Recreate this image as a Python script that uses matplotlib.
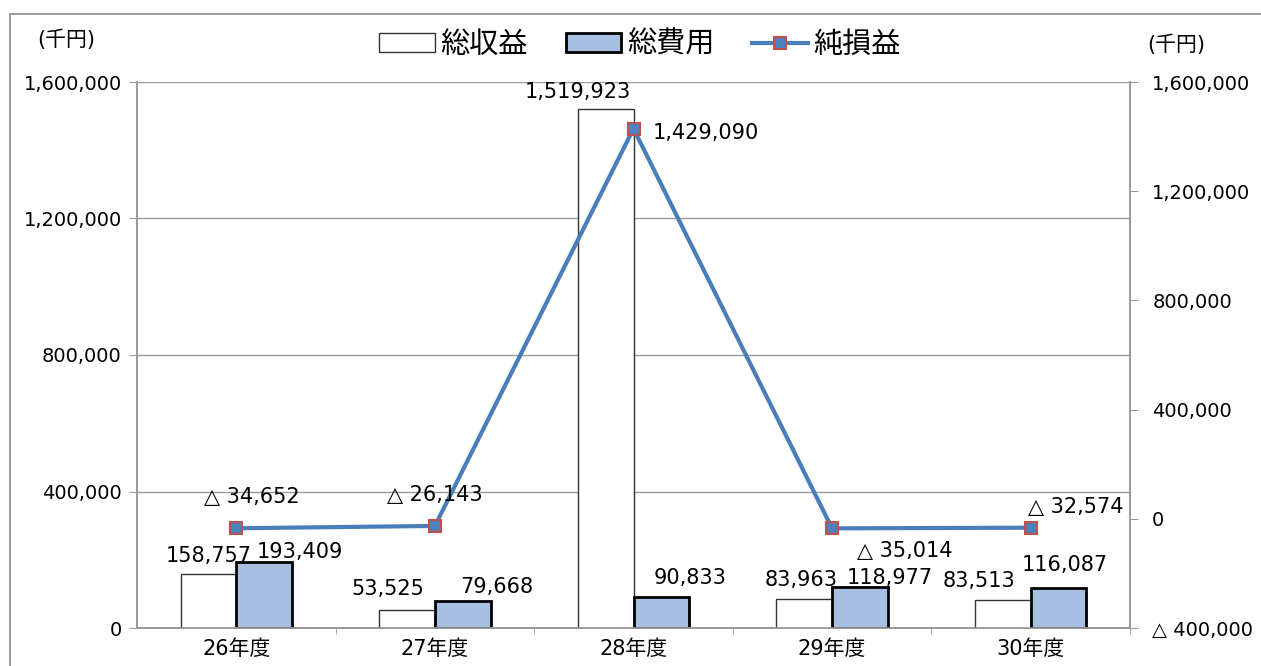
"""Revenue / expense bars with net profit line on a secondary axis."""

import matplotlib.pyplot as plt
from matplotlib.patches import Rectangle

plt.rcParams["font.family"] = ["DejaVu Sans", "Noto Sans CJK JP"]

years = ["26年度", "27年度", "28年度", "29年度", "30年度"]
revenue = [158757, 53525, 1519923, 83963, 83513]        # 総収益
expense = [193409, 79668, 90833, 118977, 116087]        # 総費用
net = [-34652, -26143, 1429090, -35014, -32574]         # 純損益

left_ticks = [0, 400000, 800000, 1200000, 1600000]
right_ticks = [-400000, 0, 400000, 800000, 1200000, 1600000]

# label offsets in pixels (dx, dy) relative to bar top / marker
rev_off = [(0, 18), (-19, 21), (-28, 17), (-3, 19), (-24, 19)]
exp_off = [(36, 10), (34, 14), (29, 19), (30, 9), (6, 23)]
net_off = [(16, 31), (0, 31), (19, -4), (73, -23), (45, 21)]

BLUE_FILL = "#a7bfe0"
LINE = "#4a7ebb"


def fmt(v):
    return f"△ {abs(v):,}" if v < 0 else f"{v:,}"


fig = plt.figure(figsize=(12.61, 6.66), dpi=100)
fig.patches.append(Rectangle((10 / 1261, -0.1), 1.2, 1.1 - 14 / 666,
                             transform=fig.transFigure, fill=False,
                             ec="#8a8a8a", lw=1.2))
ax = fig.add_axes([137 / 1261, 1 - 628 / 666, (1130 - 137) / 1261, (628 - 82) / 666])
ax2 = ax.twinx()

x = list(range(len(years)))
w = 0.28
b1 = ax.bar([i - w / 2 for i in x], revenue, w, color="white",
            edgecolor="#333333", lw=1.0, zorder=3, label="総収益")
b2 = ax.bar([i + w / 2 for i in x], expense, w, color=BLUE_FILL,
            edgecolor="black", lw=2.0, zorder=3, label="総費用")

ax.set_xlim(-0.5, len(years) - 0.5)
ax.set_ylim(0, 1600000)
ax.set_yticks(left_ticks)
ax.set_yticklabels([f"{v:,}" for v in left_ticks], fontsize=14)
ax.set_xticks(x)
ax.set_xticklabels(years, fontsize=15)
ax.set_xticks([i + 0.5 for i in x], minor=True)
ax.tick_params(axis="x", which="major", length=0, pad=8)
ax.tick_params(axis="x", which="minor", length=4, color="#999999")
ax.tick_params(axis="y", length=6, color="#999999", pad=5)
ax.grid(axis="y", color="#9a9a9a", lw=1.0, zorder=0)
ax.set_axisbelow(True)

ln, = ax2.plot(x, net, color=LINE, lw=3, marker="s", ms=8,
               mfc="#4f81bd", mec="#c0504d", mew=1.5, zorder=5, label="純損益")
ax2.set_ylim(-400000, 1600000)
ax2.set_yticks(right_ticks)
ax2.set_yticklabels([fmt(v) for v in right_ticks], fontsize=14)
ax2.tick_params(axis="y", length=6, color="#999999", pad=10)

for a in (ax, ax2):
    a.spines["top"].set_visible(False)
    for s in ("left", "right", "bottom"):
        a.spines[s].set_color("#999999")
        a.spines[s].set_linewidth(1.2)

for i in x:
    ax.annotate(f"{revenue[i]:,}", (i - w / 2, revenue[i]), xytext=rev_off[i],
                textcoords="offset pixels", ha="center", va="center", fontsize=15, zorder=6)
    ax.annotate(f"{expense[i]:,}", (i + w / 2, expense[i]), xytext=exp_off[i],
                textcoords="offset pixels", ha="center", va="center", fontsize=15, zorder=6)
    ax2.annotate(fmt(net[i]), (i, net[i]), xytext=net_off[i],
                 textcoords="offset pixels", ha="left" if i == 2 else "center",
                 va="center", fontsize=15, zorder=6)

fig.text(66 / 1261, 1 - 40 / 666, "(千円)", fontsize=15, ha="center", va="center")
fig.text(1176 / 1261, 1 - 45 / 666, "(千円)", fontsize=15, ha="center", va="center")

fig.legend([b1, b2, ln], ["総収益", "総費用", "純損益"], loc="center",
           bbox_to_anchor=(640 / 1261, 1 - 45 / 666), ncol=3, frameon=False,
           fontsize=21, handlelength=1.9, handleheight=0.6, handletextpad=0.2,
           columnspacing=1.3)

fig.savefig("out.png", dpi=100)
